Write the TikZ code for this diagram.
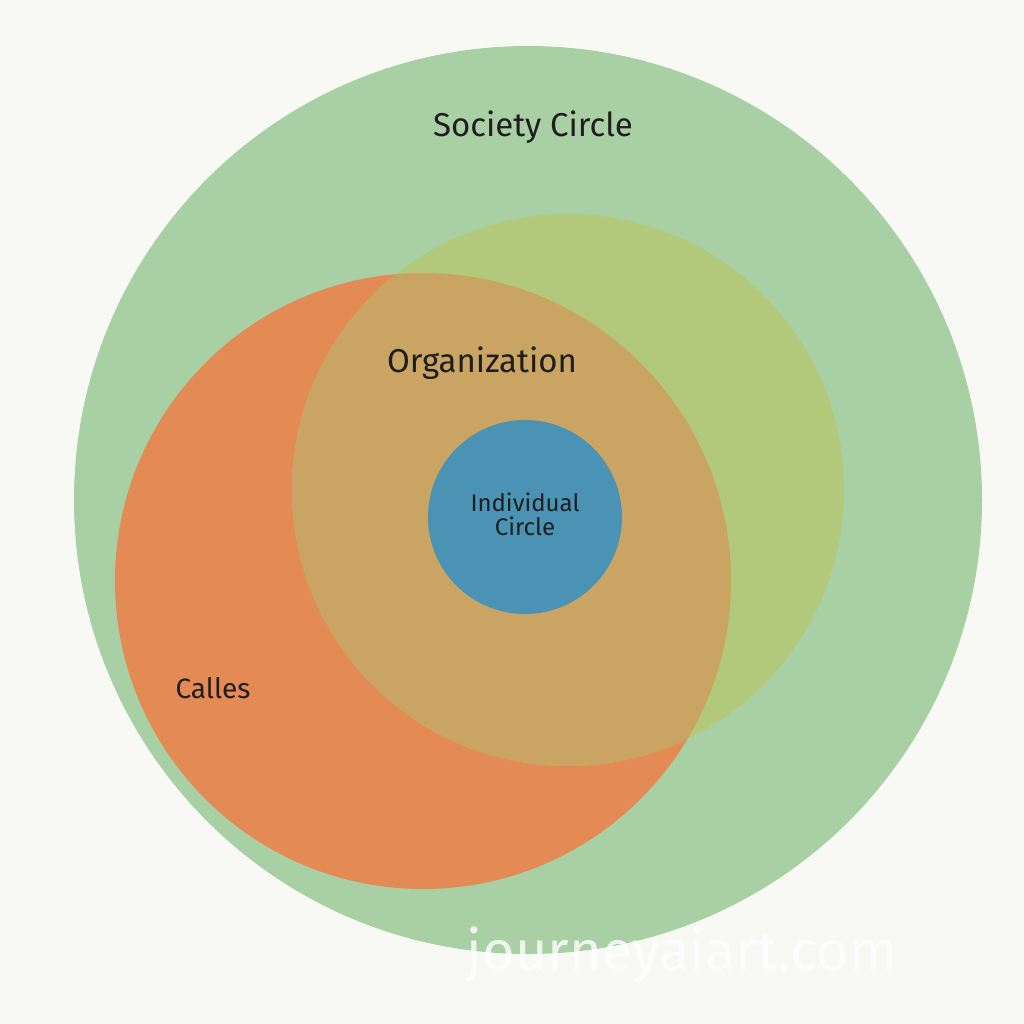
\documentclass[tikz,border=0pt]{standalone}
\usepackage{fontspec}
\setmainfont{Fira Sans}
\definecolor{bg}{HTML}{F8F9F5}
\definecolor{soc}{HTML}{A9D0A5}
\definecolor{lime}{HTML}{B2C97C}
\definecolor{orng}{HTML}{E38A55}
\definecolor{tan}{HTML}{C9A463}
\definecolor{blu}{HTML}{4A93B5}
\definecolor{txt}{HTML}{1E1E1E}
\tikzset{lbl/.style={text=txt,align=center,font=\fontsize{#1}{#1}\selectfont}}
\begin{document}
\begin{tikzpicture}[x=1pt,y=-1pt]
\fill[bg] (0,0) rectangle (1024,1024);
\useasboundingbox (0,0) rectangle (1024,1024);
\fill[soc] (528,500) circle[radius=454];
\fill[orng] (423,581) circle[radius=308];
\fill[lime] (568,490) circle[radius=276];
\begin{scope}
\clip (423,581) circle[radius=308];
\fill[tan] (568,490) circle[radius=276];
\end{scope}
\fill[blu] (525,517) circle[radius=97];
\node[lbl=33] (soc) at (533,127) {Society Circle};
\node[lbl=33] (org) at (482,363) {Organization};
\node[lbl=24] (ind) at (525,514) {Individual\\Circle};
\node[lbl=28] (cal) at (213,688) {Calles};
\node[text=white,font=\fontsize{56}{56}\selectfont,opacity=0.8] (wm) at (682,955) {journeyaiart.com};
\end{tikzpicture}
\end{document}
